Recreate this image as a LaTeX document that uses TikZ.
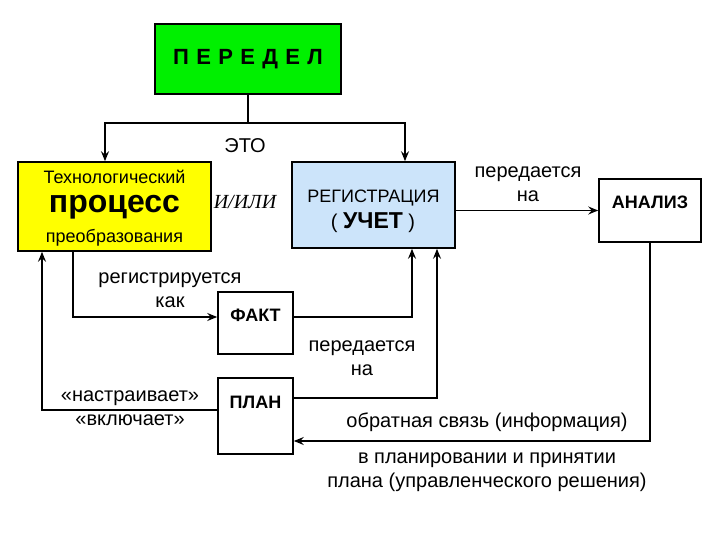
\documentclass[tikz,border=0pt]{standalone}
\usepackage{fontspec}
\setmainfont{Liberation Sans}
\newfontfamily\serifit{Liberation Serif}
\usetikzlibrary{arrows.meta}
\definecolor{pgreen}{RGB}{0,240,0}
\definecolor{pyellow}{RGB}{255,255,0}
\definecolor{pblue}{RGB}{204,228,250}
\tikzset{
  box/.style={draw=black, line width=1.6pt, inner sep=0pt, rectangle},
  txt/.style={inner sep=0pt, align=center, font=\fontsize{20}{23.5}\selectfont},
  btxt/.style={inner sep=0pt, align=center, font=\fontsize{18}{21}\selectfont},
  bold/.style={inner sep=0pt, align=center, font=\fontsize{18}{21}\selectfont\bfseries},
  arr/.style={line width=1.4pt, -{Stealth[length=10pt,width=8pt,inset=3.5pt]}},
  ln/.style={line width=1.4pt}
}
\begin{document}
\begin{tikzpicture}[x=1pt,y=-1pt]
\useasboundingbox (0,0) rectangle (720,540);
% boxes
\node[box, fill=pgreen, minimum width=186pt, minimum height=70pt] (per) at (248,59)
  {\fontsize{22}{26}\selectfont\bfseries П\,\,Е\,\,Р\,\,Е\,\,Д\,\,Е\,\,Л};
\node[box, fill=pyellow, minimum width=193pt, minimum height=89pt] (proc) at (114.5,206.5) {};
\node[btxt] (proc1) at (114.5,177) {Технологический};
\node[txt, font=\fontsize{32}{35}\selectfont\bfseries] (proc2) at (114.5,207) {процесс};
\node[btxt] (proc3) at (114.5,238) {преобразования};
\node[box, fill=pblue, minimum width=163pt, minimum height=86pt] (reg) at (373.5,205) {};
\node[btxt] (reg1) at (373.5,198) {РЕГИСТРАЦИЯ};
\node[btxt, font=\fontsize{20}{23}\selectfont] (reg2) at (373,223) {( {\fontsize{23}{26}\selectfont\bfseries УЧЕТ} )};
\node[box, minimum width=102pt, minimum height=63pt] (an) at (650,210.5) {};
\node[bold] (an1) at (650,202) {АНАЛИЗ};
\node[box, minimum width=75pt, minimum height=62pt] (fakt) at (255.5,323) {};
\node[bold] (fakt1) at (255.5,315) {ФАКТ};
\node[box, minimum width=75pt, minimum height=76pt] (plan) at (255.5,416) {};
\node[bold] (plan1) at (255.5,402) {ПЛАН};
% labels
\node[txt] (eto) at (245,146) {ЭТО};
\node[txt, font=\fontsize{20}{23}\selectfont\serifit\itshape] (ili) at (245,202) {И/ИЛИ};
\node[txt] (pn1) at (528,184) {передается\\на};
\node[txt] (rk) at (170,290) {регистрируется\\как};
\node[txt] (pn2) at (362,358) {передается\\на};
\node[txt] (nv) at (130,408) {«настраивает»\\«включает»};
\node[txt] (os) at (487,422) {обратная связь (информация)};
\node[txt] (vp) at (487,472) {в планировании и принятии\\плана (управленческого решения)};
% connectors
\coordinate (j) at (248,123);
\coordinate (jl) at (105,123);
\coordinate (jr) at (405,123);
\draw[ln] (per.south) -- (j);
\draw[arr] (j) -- (jl) -- (jl |- proc.north);
\draw[arr] (j) -- (jr) -- (jr |- reg.north);
\draw[arr] (reg.east |- an.west) -- (an.west);
\coordinate (fb) at (650,441);
\draw[arr] (an.south) -- (fb) -- (fb -| plan.east);
\coordinate (fk) at (73,317);
\draw[arr] (proc.south -| fk) -- (fk) -- (fk -| fakt.west);
\coordinate (r1) at (412,317);
\draw[arr] (r1 -| fakt.east) -- (r1) -- (r1 |- reg.south);
\coordinate (r2) at (437,398);
\draw[arr] (r2 -| plan.east) -- (r2) -- (r2 |- reg.south);
\coordinate (r3) at (42,410);
\draw[arr] (r3 -| plan.west) -- (r3) -- (r3 |- proc.south);
\end{tikzpicture}
\end{document}
